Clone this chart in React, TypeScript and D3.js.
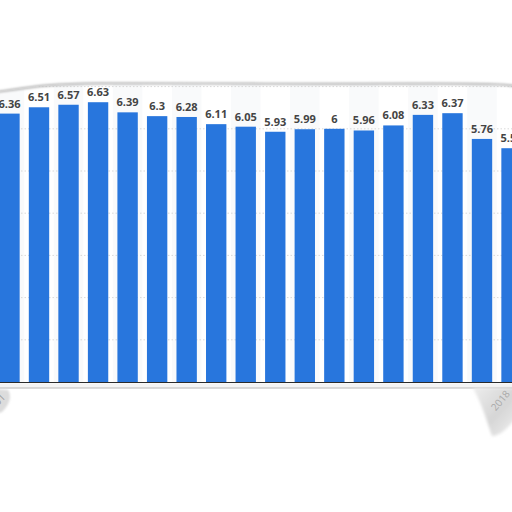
import React from "react";
import { scaleBand, scaleLinear, line, curveBasis } from "d3";

// values per year (2001 - 2018)
const years = [
  "2001", "2002", "2003", "2004", "2005", "2006", "2007", "2008", "2009",
  "2010", "2011", "2012", "2013", "2014", "2015", "2016", "2017", "2018",
];
const values = [
  6.36, 6.51, 6.57, 6.63, 6.39, 6.3, 6.28, 6.11, 6.05, 5.93, 5.99, 6, 5.96,
  6.08, 6.33, 6.37, 5.76, 5.54,
];
const gridTicks = [1, 2, 3, 4, 5, 6, 7];

const W = 512;
const H = 512;
const baseY = 382;

const App: React.FC = () => {
  const x = scaleBand<string>()
    .domain(years)
    .range([-5.3, 526.3])
    .paddingInner(0.31)
    .paddingOuter(0.155);
  const y = scaleLinear().domain([0, 7]).range([baseY, baseY - 7 * 42.2]);

  // torn paper top edge
  const topEdge: [number, number][] = [
    [-4, 92], [18, 89], [45, 85], [90, 83], [200, 83.5], [330, 84],
    [440, 83.5], [500, 84], [516, 86],
  ];
  const edge = line().curve(curveBasis);
  const topPath = edge(topEdge)!;
  const clipPath = `${topPath} L516,388 L-4,388 Z`;
  const whiteTop = `${topPath} L516,-2 L-4,-2 Z`;

  return (
    <svg
      width={W}
      height={H}
      viewBox={`0 0 ${W} ${H}`}
      style={{ position: "absolute", left: 0, top: 0, background: "#fff" }}
      fontFamily="'Open Sans', Arial, sans-serif"
    >
      <defs>
        <clipPath id="paper">
          <path d={clipPath} />
        </clipPath>
        <filter id="soft" x="-10%" y="-50%" width="120%" height="200%">
          <feGaussianBlur stdDeviation="1.2" />
        </filter>
        <filter id="blob" x="-50%" y="-50%" width="200%" height="200%">
          <feGaussianBlur stdDeviation="1.8" />
        </filter>
        <linearGradient id="curlR" x1="0" y1="0" x2="1" y2="1">
          <stop offset="0" stopColor="#ececec" />
          <stop offset="0.55" stopColor="#d6d6d6" />
          <stop offset="1" stopColor="#f0f0f0" />
        </linearGradient>
      </defs>

      <rect width={W} height={H} fill="#fff" />

      <g clipPath="url(#paper)">
        {/* alternating column shading */}
        {years.map((yr, i) =>
          i % 2 === 0 ? (
            <rect
              key={`bg-${yr}`}
              x={x(yr)! - (x.step() - x.bandwidth()) / 2}
              y={0}
              width={x.step()}
              height={baseY}
              fill="#f9fafb"
            />
          ) : null
        )}

        {/* grid */}
        {gridTicks.map((t) => (
          <line
            key={`g-${t}`}
            x1={0}
            x2={W}
            y1={y(t)}
            y2={y(t)}
            stroke="#cfcfcf"
            strokeWidth={0.8}
            strokeDasharray="1.5 2"
          />
        ))}

        {/* bars */}
        {years.map((yr, i) => (
          <rect
            key={`b-${yr}`}
            x={x(yr)}
            y={y(values[i])}
            width={x.bandwidth()}
            height={baseY - y(values[i])}
            fill="#2876dd"
          />
        ))}

        {/* value labels */}
        {years.map((yr, i) => (
          <text
            key={`l-${yr}`}
            x={x(yr)! + x.bandwidth() / 2}
            y={y(values[i]) - 6}
            textAnchor="middle"
            fontSize={11}
            fontWeight={700}
            fill="#444"
          >
            {String(values[i])}
          </text>
        ))}

        {/* baseline */}
        <line x1={0} x2={W} y1={baseY + 0.5} y2={baseY + 0.5} stroke="#2b2b2b" strokeWidth={1.2} />
      </g>

      {/* white paper above the torn edge */}
      <path d={whiteTop} fill="#fff" />
      <path d={topPath} fill="none" stroke="#b5b5b5" strokeWidth={2.2} filter="url(#soft)" />
      <path d={topPath} fill="none" stroke="#d8d8d8" strokeWidth={0.8} />

      {/* bottom torn edge */}
      <rect x={0} y={baseY + 1.5} width={W} height={4} fill="#f4f4f4" />
      <path
        d="M-4,388 C100,387 200,388.5 300,388 S450,387.5 516,388"
        fill="none"
        stroke="#bdbdbd"
        strokeWidth={2}
        filter="url(#soft)"
      />

      {/* left curl */}
      <path d="M-4,389 L8,390 C12,396 10,404 2,412 L-4,414 Z" fill="#dcdcdc" filter="url(#soft)" />
      <text
        transform="translate(6,398) rotate(-45)"
        textAnchor="end"
        fontSize={10}
        fill="#999"
      >
        {years[0]}
      </text>

      {/* right curl */}
      <path
        d="M473,388 L516,388 L516,418 C508,428 500,436 492,436 C488,424 482,404 473,388 Z"
        fill="url(#curlR)"
        filter="url(#blob)"
      />
      <text
        transform={`translate(${x(years[17])! + x.bandwidth() / 2 - 1},394) rotate(-50)`}
        textAnchor="end"
        fontSize={10}
        fill="#a9a9a9"
      >
        {years[17]}
      </text>
    </svg>
  );
};

export default App;
